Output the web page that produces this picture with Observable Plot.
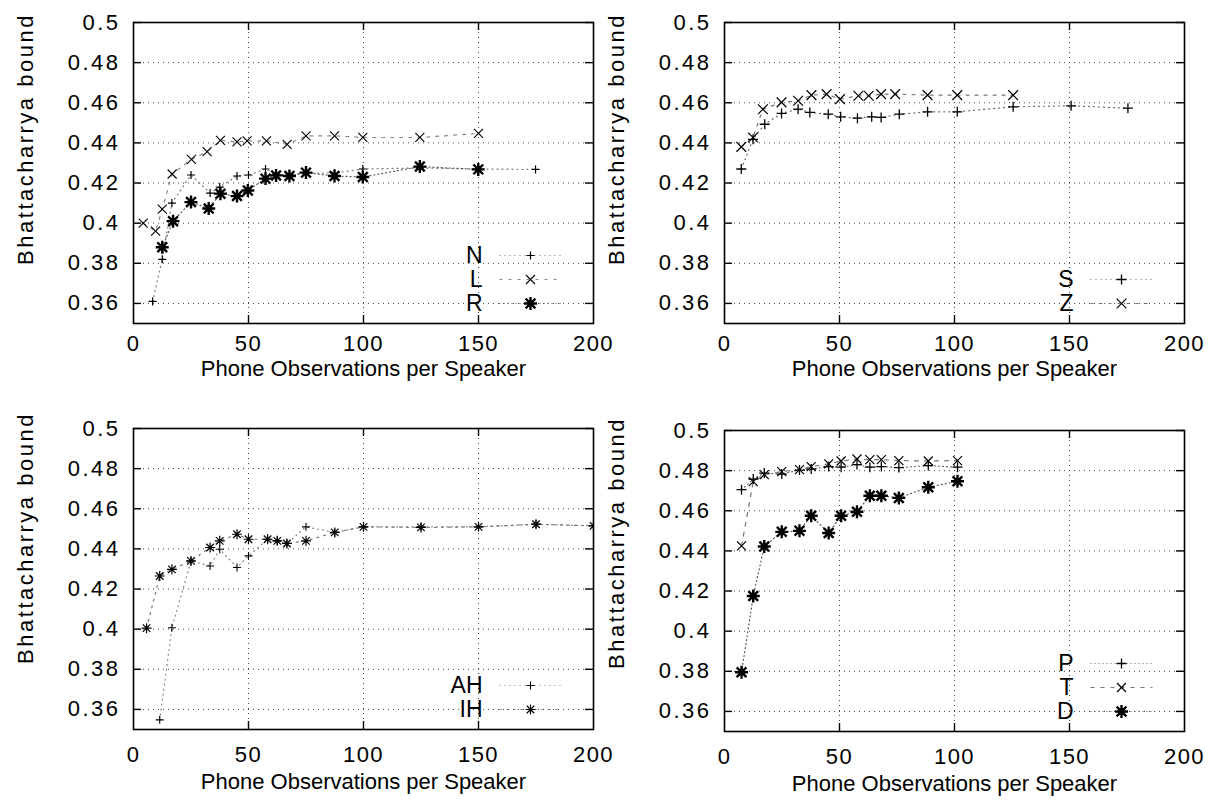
<!DOCTYPE html>
<html><head><meta charset="utf-8">
<script src="https://cdn.jsdelivr.net/npm/d3@7"></script>
<script src="https://cdn.jsdelivr.net/npm/@observablehq/plot@0.6"></script>
<style>
body{margin:0;background:#fff;}
#wrap{position:relative;width:1211px;height:804px;overflow:hidden;background:#fff;}
.panel{position:absolute;}
</style></head><body><div id="wrap"></div>
<script>
// ---- shared axes ----
const xTicks = [0, 50, 100, 150, 200];
const yTicks = [0.36, 0.38, 0.40, 0.42, 0.44, 0.46, 0.48, 0.5];
const xLabel = "Phone Observations per Speaker";
const yLabel = "Bhattacharrya bound";

// ---- panel 1 (top left): N, L, R ----
const nX = [8.3, 12.5, 16.7, 25, 33.3, 37.5, 45, 50, 57.4, 62, 67.8, 75, 87.4, 99.7, 124.5, 150, 174.8];
const nY = [0.361, 0.382, 0.410, 0.424, 0.415, 0.418, 0.4235, 0.424, 0.427, 0.4245, 0.424, 0.425, 0.425, 0.427, 0.4275, 0.427, 0.4268];
const lX = [4.2, 9.6, 12.5, 16.8, 25.2, 32, 37.8, 45, 49.4, 57.8, 66.8, 75, 87.4, 99.7, 124.5, 150];
const lY = [0.400, 0.396, 0.407, 0.4245, 0.4318, 0.4357, 0.4413, 0.4405, 0.441, 0.441, 0.4393, 0.4435, 0.4435, 0.4427, 0.4427, 0.4447];
const rX = [12.5, 17.2, 25, 32.7, 37.8, 45, 49.7, 57.4, 62, 67.8, 75, 87.4, 99.7, 124.5, 149.9];
const rY = [0.388, 0.401, 0.4105, 0.4073, 0.4147, 0.4135, 0.4163, 0.4222, 0.4238, 0.4235, 0.4252, 0.4235, 0.423, 0.4282, 0.4268];

// ---- panel 2 (top right): S, Z ----
const sX = [7.3, 12.4, 17.5, 24.8, 32, 37.1, 45.1, 50.5, 57.8, 64, 68.1, 76, 88.3, 101.2, 125.5, 150.7, 175.4];
const sY = [0.427, 0.4418, 0.4493, 0.4547, 0.4568, 0.4552, 0.4543, 0.453, 0.4523, 0.453, 0.4527, 0.4543, 0.4555, 0.4555, 0.458, 0.4585, 0.4573];
const zX = [7.3, 12.4, 16.7, 24.8, 32, 37.8, 44.4, 50.2, 58.2, 62.7, 68.1, 74.2, 88.3, 101.2, 125.5];
const zY = [0.438, 0.4427, 0.4568, 0.4602, 0.461, 0.4638, 0.4643, 0.4618, 0.4635, 0.4635, 0.4643, 0.4643, 0.4638, 0.4638, 0.4638];

// ---- panel 3 (bottom left): AH, IH ----
const ahX = [11.4, 16.7, 25, 33.3, 37.5, 45, 50, 58.3, 62.5, 66.7, 75, 87.5, 100, 125, 150, 175, 200];
const ahY = [0.3548, 0.4007, 0.434, 0.4315, 0.4398, 0.4307, 0.4365, 0.4448, 0.444, 0.4427, 0.451, 0.4482, 0.451, 0.451, 0.451, 0.4523, 0.4515];
const ihX = [5.7, 11.4, 16.7, 25, 33.3, 37.5, 45, 50, 58.3, 62.5, 66.7, 75, 87.5, 100, 125, 150, 175, 200];
const ihY = [0.4005, 0.4265, 0.4298, 0.434, 0.4407, 0.444, 0.4473, 0.4448, 0.4448, 0.444, 0.4427, 0.444, 0.4482, 0.451, 0.4507, 0.451, 0.4523, 0.4515];

// ---- panel 4 (bottom right): P, T, D ----
const ptdX = [7.4, 12.5, 17.3, 24.9, 32.6, 37.7, 45.3, 50.7, 57.6, 63.2, 68.2, 75.8, 88.6, 101.3];
const pY = [0.4705, 0.4758, 0.4788, 0.4783, 0.4803, 0.4808, 0.482, 0.4817, 0.483, 0.4817, 0.482, 0.4815, 0.4825, 0.4817];
const tY = [0.4425, 0.4745, 0.478, 0.4795, 0.4805, 0.482, 0.4834, 0.4848, 0.4858, 0.4855, 0.4855, 0.485, 0.4848, 0.485];
const dY = [0.3795, 0.4175, 0.4422, 0.4495, 0.45, 0.4575, 0.4489, 0.4575, 0.4595, 0.4675, 0.4675, 0.4664, 0.4717, 0.4747];

// ---- custom gnuplot-like symbols ----
const plusSym = {draw(c, s){const r=Math.sqrt(s/Math.PI); c.moveTo(-r,0);c.lineTo(r,0);c.moveTo(0,-r);c.lineTo(0,r);}};
const timesSym = {draw(c, s){const r=Math.sqrt(s/Math.PI)*0.75; c.moveTo(-r,-r);c.lineTo(r,r);c.moveTo(-r,r);c.lineTo(r,-r);}};
const starSym = {draw(c, s){const r=Math.sqrt(s/Math.PI); const q=r*0.75; c.moveTo(-r,0);c.lineTo(r,0);c.moveTo(0,-r);c.lineTo(0,r);c.moveTo(-q,-q);c.lineTo(q,q);c.moveTo(-q,q);c.lineTo(q,-q);}};
const segSym = {draw(c){c.moveTo(-31,0);c.lineTo(31,0);}};

const rows = (xs, ys) => xs.map((x, i) => ({x, y: ys[i]}));

const W = 460, H = 301;
const fmt = d => String(Number(d.toFixed(2)));
const FONT = "'Liberation Sans', Arial, sans-serif";
const yTickTexts = new Set(yTicks.map(fmt));
const xTickTexts = new Set(xTicks.map(String));

function panel({left, top, ylabelDy, xPad, xLabelDy, series}) {
  const marks = [
    Plot.ruleY(yTicks.slice(0, -1), {stroke: "#444", strokeWidth: 1, strokeDasharray: "1,4"}),
    Plot.ruleX(xTicks.slice(1, -1), {stroke: "#444", strokeWidth: 1, strokeDasharray: "1,4"})
  ];
  series.forEach((s) => {
    marks.push(Plot.line(rows(s.x, s.y), {x: "x", y: "y", stroke: s.lineColor, strokeWidth: 1.2, strokeDasharray: s.dash, clip: true}));
  });
  series.forEach((s, i) => {
    marks.push(Plot.dot(rows(s.x, s.y), {x: "x", y: "y", symbol: s.symbol, r: s.r, stroke: "black", fill: "none", strokeWidth: s.sw, clip: true}));
    const n = series.length;
    const rowDy = -20 - 24 * (n - 1 - i);
    marks.push(Plot.text([s.name], {frameAnchor: "bottom-right", dx: -111, dy: rowDy, textAnchor: "end", lineAnchor: "middle", fontSize: 23, fill: "black"}));
    marks.push(Plot.dot([0], {frameAnchor: "bottom-right", dx: -63, dy: rowDy, symbol: segSym, r: 1, stroke: s.lineColor, strokeWidth: 1.2, strokeDasharray: s.dash, fill: "none"}));
    marks.push(Plot.dot([0], {frameAnchor: "bottom-right", dx: -63, dy: rowDy, symbol: s.symbol, r: s.r, stroke: "black", strokeWidth: s.sw, fill: "none"}));
  });
  marks.push(
    Plot.frame({stroke: "black", strokeWidth: 1.6}),
    Plot.tickY(yTicks, {y: d => d, insetRight: W - 8, stroke: "black", strokeWidth: 1.4}),
    Plot.tickY(yTicks, {y: d => d, insetLeft: W - 8, stroke: "black", strokeWidth: 1.4}),
    Plot.tickX(xTicks.slice(1, -1), {x: d => d, insetTop: H - 8, stroke: "black", strokeWidth: 1.4}),
    Plot.tickX(xTicks.slice(1, -1), {x: d => d, insetBottom: H - 8, stroke: "black", strokeWidth: 1.4}),
    Plot.axisY(yTicks, {tickSize: 0, tickPadding: 13, tickFormat: fmt, label: null, fontSize: 22}),
    Plot.axisX(xTicks, {tickSize: 0, tickPadding: xPad, label: null, fontSize: 22}),
    Plot.text([xLabel], {frameAnchor: "bottom", dy: xLabelDy, lineAnchor: "middle", textAnchor: "middle", fontSize: 22, fill: "black"}),
    Plot.text([yLabel], {frameAnchor: "left", rotate: -90, dx: -108, dy: ylabelDy, textAnchor: "middle", lineAnchor: "middle", fontSize: 22, fill: "black"})
  );
  const svg = Plot.plot({
    width: 605, height: 400,
    marginLeft: 133, marginRight: 12, marginTop: 22, marginBottom: 77,
    x: {domain: [0, 200], axis: null},
    y: {domain: [0.35, 0.5], axis: null},
    style: {fontFamily: FONT, fontSize: "22px", color: "black", background: "transparent", overflow: "visible"},
    marks
  });
  svg.querySelectorAll("text").forEach(t => {
    const s = t.textContent;
    if (s === yLabel) t.style.letterSpacing = "2.5px";
    else if (yTickTexts.has(s) && s.includes(".")) t.style.letterSpacing = "2.5px";
    else if (xTickTexts.has(s)) t.style.letterSpacing = "1.5px";
  });
  const div = document.createElement("div");
  div.className = "panel";
  div.style.left = left + "px";
  div.style.top = top + "px";
  div.appendChild(svg);
  document.getElementById("wrap").appendChild(div);
}

panel({left: 0, top: 0, ylabelDy: -34, xPad: 12, xLabelDy: 45, series: [
  {name: "N", x: nX, y: nY, symbol: plusSym, r: 4, sw: 1.2, dash: "1,4", lineColor: "#777"},
  {name: "L", x: lX, y: lY, symbol: timesSym, r: 6, sw: 1.1, dash: "3,6", lineColor: "#888"},
  {name: "R", x: rX, y: rY, symbol: starSym, r: 6.5, sw: 2.4, dash: "1,3", lineColor: "#555"}
]});
panel({left: 591, top: 0, ylabelDy: -34, xPad: 12, xLabelDy: 45, series: [
  {name: "S", x: sX, y: sY, symbol: plusSym, r: 5, sw: 1.3, dash: "1,4", lineColor: "#666"},
  {name: "Z", x: zX, y: zY, symbol: timesSym, r: 6.5, sw: 1.2, dash: "3,6", lineColor: "#777"}
]});
panel({left: 0, top: 406, ylabelDy: -41, xPad: 17, xLabelDy: 52, series: [
  {name: "AH", x: ahX, y: ahY, symbol: plusSym, r: 4, sw: 1.1, dash: "1,4", lineColor: "#888"},
  {name: "IH", x: ihX, y: ihY, symbol: starSym, r: 5, sw: 1.2, dash: "2,5", lineColor: "#777"}
]});
panel({left: 591, top: 408, ylabelDy: -38, xPad: 17, xLabelDy: 52, series: [
  {name: "P", x: ptdX, y: pY, symbol: plusSym, r: 5, sw: 1.3, dash: "1,3", lineColor: "#666"},
  {name: "T", x: ptdX, y: tY, symbol: timesSym, r: 6, sw: 1.2, dash: "4,6", lineColor: "#777"},
  {name: "D", x: ptdX, y: dY, symbol: starSym, r: 6.5, sw: 2.4, dash: "1,3", lineColor: "#555"}
]});
</script></body></html>
